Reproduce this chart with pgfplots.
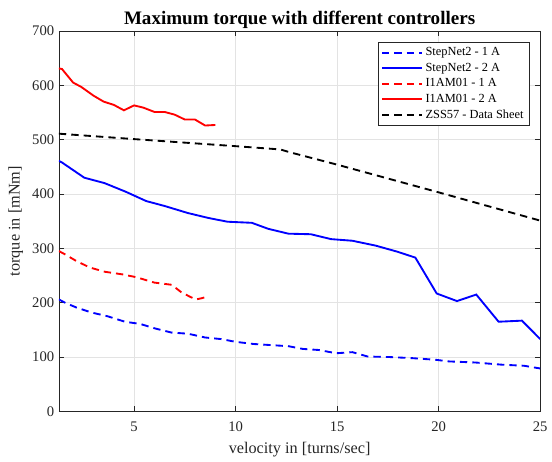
\documentclass[border=0pt]{standalone}
\usepackage{fontspec}
\setmainfont{Liberation Serif}
\usepackage{pgfplots}
\pgfplotsset{compat=1.18}

\definecolor{axgray}{HTML}{262626}
\definecolor{gridgray}{HTML}{E3E3E3}

\begin{document}
\begin{tikzpicture}
\begin{axis}[
  scale only axis,
  width=361.5pt, height=285.75pt,
  xmin=1.3, xmax=25, ymin=0, ymax=700,
  xtick={5,10,15,20,25},
  ytick={0,100,200,300,400,500,600,700},
  tick align=inside,
  tick pos=both,
  major tick length=4pt,
  axis line style={axgray, line width=0.6pt},
  tick style={axgray, line width=0.6pt},
  grid=major,
  major grid style={gridgray, line width=0.5pt},
  /pgf/number format/assume math mode=true,
  /pgf/number format/set thousands separator={},
  tick label style={font=\fontsize{11}{13}\selectfont, text=axgray},
  xticklabel style={yshift=-4pt},
  xlabel={velocity in [turns/sec]},
  ylabel={torque in [mNm]},
  xlabel style={yshift=-1pt},
  label style={font=\fontsize{12.2}{14}\selectfont, text=axgray},
  title={Maximum torque with different controllers},
  title style={font=\fontsize{14.3}{16}\selectfont\bfseries,
    at={(0.5,1)}, anchor=base, yshift=-1.5pt, inner sep=0pt},
  legend cell align=left,
  legend style={at={(0.977,0.971)}, anchor=north east,
    draw=axgray, fill=white,
    font=\fontsize{9.3}{11}\selectfont,
    inner xsep=2pt, inner ysep=2pt, row sep=0pt},
  legend image code/.code={%
    \draw[#1] (0pt,0pt) -- (30pt,0pt);
    \draw[#1] (0pt,0pt) -- (30pt,0pt);},
]
% StepNet2 - 1 A
\addplot[blue, line width=1.4pt, dash pattern=on 5.5pt off 3.8pt] coordinates {
  (1.3,206) (1.6,200) (2.17,191) (2.9,182) (3.7,175) (4.55,165) (5.3,161)
  (6.0,153) (6.85,145) (7.65,143) (8.5,136) (9.3,133) (10.0,128) (10.9,124)
  (11.75,122) (12.6,120) (13.3,115) (14.1,113) (14.95,107) (15.75,109)
  (16.5,101) (17.6,100) (18.7,98) (19.85,95) (20.5,92) (21.8,90) (23.1,86)
  (24.2,84) (25,79)
};
\addlegendentry{StepNet2 - 1 A}
% StepNet2 - 2 A
\addplot[blue, line width=1.4pt] coordinates {
  (1.3,461) (1.45,458) (2.55,430) (3.55,420) (4.6,404) (5.6,387) (6.5,378)
  (7.65,365) (8.65,356) (9.6,349) (10.8,347) (11.6,336) (12.6,327)
  (13.7,326) (14.7,317) (15.75,314) (16.9,305) (17.95,294) (18.85,283)
  (19.9,217) (20.9,203) (21.85,215) (22.95,165) (24.1,167) (25,133)
};
\addlegendentry{StepNet2 - 2 A}
% I1AM01 - 1 A
\addplot[red, line width=1.4pt, dash pattern=on 5.5pt off 3.8pt] coordinates {
  (1.3,295) (1.6,289) (2.1,278) (2.8,265) (3.55,257) (4.45,252) (5.1,247)
  (6.0,237) (6.85,233) (7.3,220) (7.75,211) (8.05,206) (8.3,208) (8.6,211)
};
\addlegendentry{I1AM01 - 1 A}
% I1AM01 - 2 A
\addplot[red, line width=1.4pt] coordinates {
  (1.3,631) (1.45,630) (2.0,605) (2.4,597) (3.0,581) (3.5,570) (4.0,564)
  (4.5,554) (5.0,563) (5.45,559) (6.0,551) (6.5,551) (7.0,546) (7.5,537)
  (8.0,537) (8.5,526) (9.0,527)
};
\addlegendentry{I1AM01 - 2 A}
% ZSS57 - Data Sheet
\addplot[black, line width=1.4pt, dash pattern=on 5.5pt off 3.8pt] coordinates {
  (1.3,511) (5,501) (10,488) (12.2,482) (12.65,477) (15,454) (20,403)
  (25,351)
};
\addlegendentry{ZSS57 - Data Sheet}
\end{axis}
\path (current axis.south west) ++(-44.25pt,-30.4pt) coordinate (bbsw);
\path (current axis.north east) ++(8.25pt,23.25pt) coordinate (bbne);
\path (bbsw) rectangle (bbne);
\end{tikzpicture}
\end{document}
